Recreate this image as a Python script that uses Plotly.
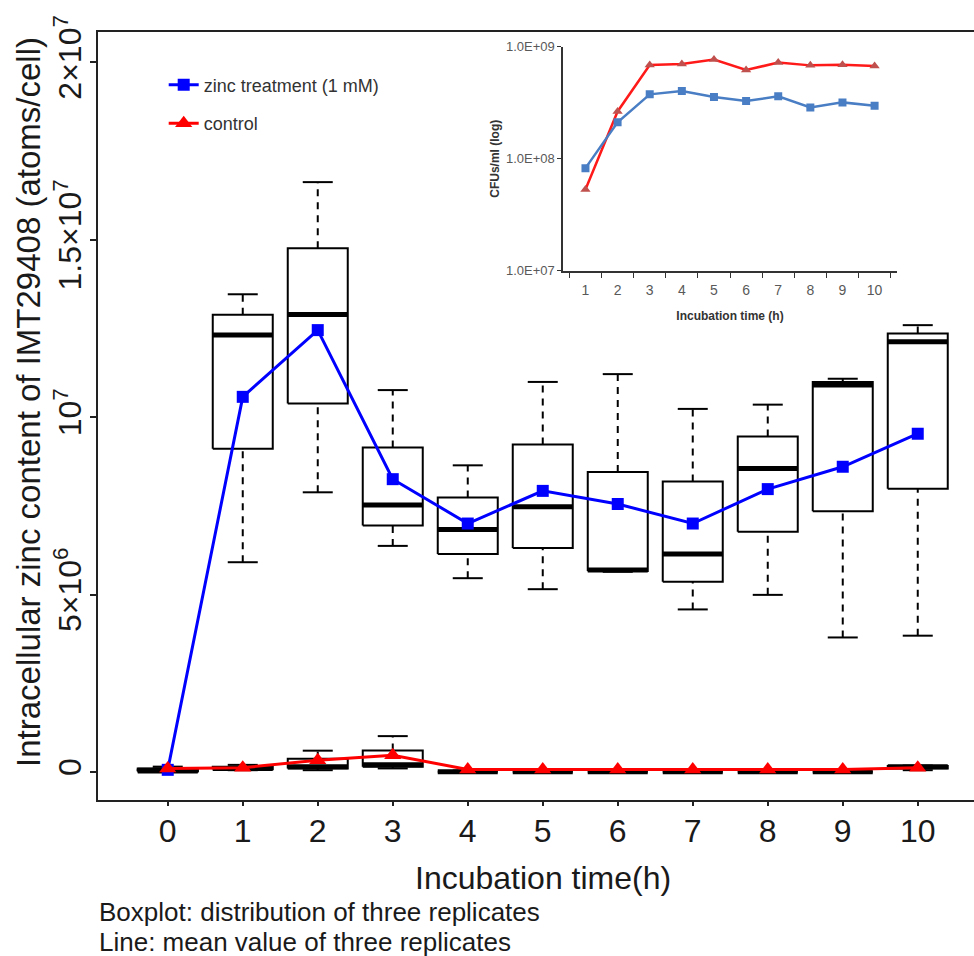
import plotly.graph_objects as go

# ---------------- data ----------------
times = [0, 1, 2, 3, 4, 5, 6, 7, 8, 9, 10]

# intracellular zinc, three replicates per time point (sorted), in 10^6 atoms/cell
zinc_low = [0.00, 5.91, 7.88, 6.37, 5.46, 5.15, 5.64, 4.58, 4.99, 3.79, 3.84]
zinc_mid = [0.03, 12.31, 12.89, 7.52, 6.83, 7.47, 5.69, 6.14, 8.55, 10.90, 12.12]
zinc_high = [0.10, 13.46, 16.62, 10.76, 8.64, 10.99, 11.21, 10.23, 10.35, 11.08, 12.59]
zinc_mean = [0.06, 10.57, 12.45, 8.25, 7.00, 7.92, 7.55, 7.00, 7.97, 8.60, 9.53]

control_low = [0.00, 0.05, 0.05, 0.10, 0.00, 0.00, 0.00, 0.00, 0.00, 0.00, 0.05]
control_mid = [0.05, 0.10, 0.15, 0.20, 0.005, 0.005, 0.005, 0.005, 0.005, 0.005, 0.15]
control_high = [0.15, 0.20, 0.60, 1.01, 0.04, 0.04, 0.04, 0.04, 0.04, 0.04, 0.18]
control_mean = [0.10, 0.12, 0.33, 0.47, 0.07, 0.07, 0.07, 0.07, 0.07, 0.07, 0.12]

UNIT = 1e6

y_tick_vals = [0, 5e6, 1e7, 1.5e7, 2e7]
y_tick_text = ["0", "5×10<sup>6</sup>", "10<sup>7</sup>", "1.5×10<sup>7</sup>", "2×10<sup>7</sup>"]

# inset: CFU counts
inset_hours = ["1", "2", "3", "4", "5", "6", "7", "8", "9", "10"]
inset_zinc_cfu = [8.24e7, 2.11e8, 3.75e8, 4.02e8, 3.55e8, 3.27e8, 3.60e8, 2.87e8, 3.18e8, 2.97e8]
inset_control_cfu = [5.32e7, 2.64e8, 6.85e8, 7.00e8, 7.66e8, 6.18e8, 7.20e8, 6.80e8, 6.90e8, 6.72e8]
inset_tick_vals = [1e7, 1e8, 1e9]
inset_tick_text = ["1.0E+07", "1.0E+08", "1.0E+09"]

# ---------------- helpers ----------------
BOX_HALF = 0.4
CAP_HALF = 0.2


def box_paths(pos, low, mid, high):
    rect_x, rect_y = [], []
    med_x, med_y = [], []
    wh_x, wh_y = [], []
    cap_x, cap_y = [], []
    for p, lo, md, hi in zip(pos, low, mid, high):
        lo, md, hi = lo * UNIT, md * UNIT, hi * UNIT
        q1 = (lo + md) / 2
        q3 = (md + hi) / 2
        rect_x += [p - BOX_HALF, p + BOX_HALF, p + BOX_HALF, p - BOX_HALF, p - BOX_HALF, None]
        rect_y += [q1, q1, q3, q3, q1, None]
        med_x += [p - BOX_HALF, p + BOX_HALF, None]
        med_y += [md, md, None]
        wh_x += [p, p, None, p, p, None]
        wh_y += [q3, hi, None, lo, q1, None]
        cap_x += [p - CAP_HALF, p + CAP_HALF, None, p - CAP_HALF, p + CAP_HALF, None]
        cap_y += [hi, hi, None, lo, lo, None]
    return (rect_x, rect_y), (med_x, med_y), (wh_x, wh_y), (cap_x, cap_y)


fig = go.Figure()

for low, mid, high in [(zinc_low, zinc_mid, zinc_high), (control_low, control_mid, control_high)]:
    rect, med, wh, cap = box_paths(times, low, mid, high)
    fig.add_trace(go.Scatter(x=wh[0], y=wh[1], mode="lines", showlegend=False, hoverinfo="skip",
                             line=dict(color="black", width=2, dash="7px,6px")))
    fig.add_trace(go.Scatter(x=cap[0], y=cap[1], mode="lines", showlegend=False, hoverinfo="skip",
                             line=dict(color="black", width=2)))
    fig.add_trace(go.Scatter(x=rect[0], y=rect[1], mode="lines", showlegend=False, hoverinfo="skip",
                             line=dict(color="black", width=2)))
    fig.add_trace(go.Scatter(x=med[0], y=med[1], mode="lines", showlegend=False, hoverinfo="skip",
                             line=dict(color="black", width=5)))

fig.add_trace(go.Scatter(
    x=times, y=[v * UNIT for v in zinc_mean], mode="lines+markers",
    name="zinc treatment (1 mM)", legendgroup="a",
    line=dict(color="#0000FF", width=3),
    marker=dict(symbol="square", size=12, color="#0000FF"),
))
fig.add_trace(go.Scatter(
    x=times, y=[v * UNIT for v in control_mean], mode="lines+markers",
    name="control", legendgroup="b",
    line=dict(color="#FF0000", width=3),
    marker=dict(symbol="triangle-up", size=15, color="#FF0000"),
))

# inset
fig.add_trace(go.Scatter(
    x=inset_hours, y=inset_control_cfu, mode="lines+markers", xaxis="x2", yaxis="y2",
    showlegend=False, line=dict(color="#FF1A1A", width=2.5),
    marker=dict(symbol="triangle-up", size=9, color="#C0504D"),
))
fig.add_trace(go.Scatter(
    x=inset_hours, y=inset_zinc_cfu, mode="lines+markers", xaxis="x2", yaxis="y2",
    showlegend=False, line=dict(color="#4A7EC4", width=2.5),
    marker=dict(symbol="square", size=8, color="#4A7EC4"),
))

FONT = "Liberation Sans, Arial, sans-serif"
TXT = "#1a1a1a"

fig.update_layout(
    width=974, height=956,
    margin=dict(l=98, r=0, t=32, b=156),
    paper_bgcolor="white", plot_bgcolor="white",
    font=dict(family=FONT, color=TXT),
    xaxis=dict(
        range=[-0.93, 10.75], tickvals=times, ticktext=[str(t) for t in times],
        showgrid=False, zeroline=False, showline=True, mirror=True,
        linecolor="#222", linewidth=1.5, ticks="outside", ticklen=4, tickwidth=1.5,
        tickcolor="#222", tickfont=dict(size=32, color=TXT), ticklabelstandoff=-2,
    ),
    yaxis=dict(
        range=[-0.79e6, 20.85e6], tickvals=y_tick_vals, ticktext=y_tick_text,
        tickangle=-90, showgrid=False, zeroline=False, showline=True, mirror=False,
        linecolor="#222", linewidth=1.5, ticks="outside", ticklen=6, tickwidth=1.5,
        tickcolor="#222", tickfont=dict(size=32, color=TXT), ticklabelstandoff=-4,
    ),
    xaxis2=dict(
        domain=[0.531, 0.912], anchor="y2", type="category", tickson="boundaries",
        showgrid=False, zeroline=False, showline=True, linecolor="#333", linewidth=1.5,
        ticks="outside", ticklen=5, tickcolor="#333", ticklabelstandoff=6,
        tickfont=dict(size=14, color="#595959"),
        title=dict(text="<b>Incubation time (h)</b>", font=dict(size=12, color="#333"), standoff=14),
    ),
    yaxis2=dict(
        domain=[0.689, 0.981], anchor="x2", type="log", range=[7, 9],
        tickvals=inset_tick_vals, ticktext=inset_tick_text,
        showgrid=False, zeroline=False, showline=True, linecolor="#333", linewidth=1.5,
        ticks="outside", ticklen=4, tickcolor="#333",
        tickfont=dict(size=13, color="#595959"),
        title=dict(text="<b>CFUs/ml (log)</b>", font=dict(size=12, color="#333"), standoff=4),
    ),
    legend=dict(
        x=0.075, y=0.955, xanchor="left", yanchor="top",
        bgcolor="rgba(0,0,0,0)", font=dict(size=18, color="#333"),
        traceorder="grouped", tracegroupgap=12, itemwidth=30,
    ),
    annotations=[
        dict(text="Intracellular zinc content of IMT29408 (atoms/cell)", textangle=-90,
             x=(28 - 98) / 876, y=(800 - 402) / 768, xref="paper", yref="paper",
             showarrow=False, font=dict(size=33, color=TXT), xanchor="center", yanchor="middle"),
        dict(text="Incubation time(h)", x=(543 - 98) / 876, y=(800 - 878) / 768,
             xref="paper", yref="paper", showarrow=False, font=dict(size=32, color=TXT),
             xanchor="center", yanchor="middle"),
        dict(text="Boxplot: distribution of three replicates", x=(97 - 98) / 876, y=(800 - 912) / 768,
             xref="paper", yref="paper", showarrow=False, font=dict(size=26, color=TXT),
             xanchor="left", yanchor="middle"),
        dict(text="Line: mean value of three replicates", x=(97 - 98) / 876, y=(800 - 942) / 768,
             xref="paper", yref="paper", showarrow=False, font=dict(size=26, color=TXT),
             xanchor="left", yanchor="middle"),
    ],
)

fig.write_html("out.html")
